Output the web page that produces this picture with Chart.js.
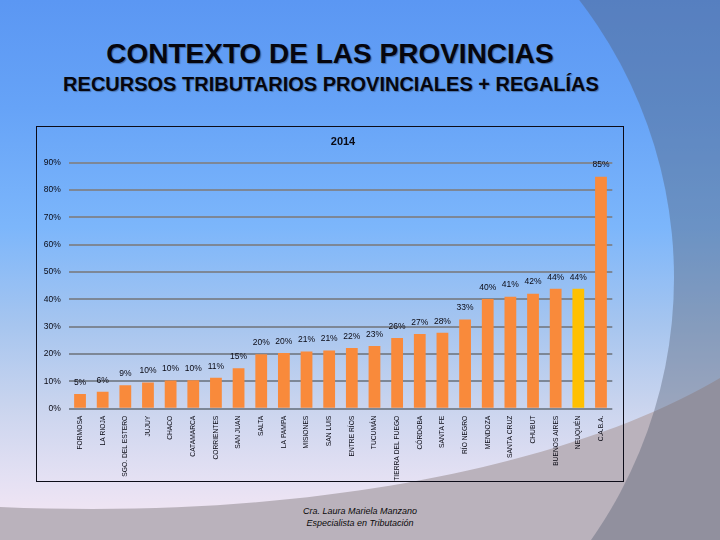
<!DOCTYPE html>
<html><head><meta charset="utf-8">
<script src="https://cdn.jsdelivr.net/npm/chart.js@4"></script>
<style>
html,body{margin:0;padding:0;width:720px;height:540px;overflow:hidden;background:#fff;}
#stage{position:relative;width:720px;height:540px;}
#bg{position:absolute;left:0;top:0;}
.t1{position:absolute;left:0;width:660px;top:38px;text-align:center;font:bold 28px "Liberation Sans",Arial,sans-serif;line-height:32px;color:#06060e;text-shadow:1px 1px 1px rgba(0,0,0,0.35);}
.t2{position:absolute;left:0;width:662px;top:72px;text-align:center;font:bold 20px "Liberation Sans",Arial,sans-serif;line-height:24px;color:#06060e;text-shadow:1px 1px 1px rgba(0,0,0,0.3);}
#box{position:absolute;left:36px;top:126px;width:588px;height:356px;box-sizing:border-box;border:1.5px solid #0c0c18;}
#wrap{position:absolute;left:36px;top:126px;width:614px;height:356px;}
.foot{position:absolute;left:260px;width:200px;top:505px;text-align:center;font:italic 9px "Liberation Sans",Arial,sans-serif;line-height:12px;color:#0a0a0a;}
</style></head>
<body><div id="stage">
<svg id="bg" width="720" height="540">
<defs>
<linearGradient id="g" x1="0" y1="0" x2="0" y2="540" gradientUnits="userSpaceOnUse">
<stop offset="0" stop-color="#5b97f3"/>
<stop offset="0.2" stop-color="#66a3f7"/>
<stop offset="0.42" stop-color="#7cb6fb"/>
<stop offset="0.6" stop-color="#a6c5ef"/>
<stop offset="0.75" stop-color="#c9d4ee"/>
<stop offset="0.88" stop-color="#e3e0f3"/>
<stop offset="0.94" stop-color="#eee4f3"/>
<stop offset="1" stop-color="#f2e6f3"/>
</linearGradient>
<mask id="outside"><rect width="720" height="540" fill="white"/><circle cx="219" cy="278" r="455" fill="black"/></mask>
</defs>
<rect width="720" height="540" fill="url(#g)"/>
<path d="M0,507 C350,522 600,450 720,378 L720,540 L0,540 Z" fill="#bab2bc"/>
<rect width="720" height="540" fill="#505a6e" opacity="0.38" mask="url(#outside)"/>
</svg>
<div class="t1">CONTEXTO DE LAS PROVINCIAS</div>
<div class="t2">RECURSOS TRIBUTARIOS PROVINCIALES + REGALÍAS</div>
<div id="box"></div>
<div id="wrap"><canvas id="c" width="614" height="356"></canvas></div>
<div class="foot">Cra. Laura Mariela Manzano<br>Especialista en Tributación</div>
</div>
<script>
const chartTitle = '2014';
const categories = ['FORMOSA','LA RIOJA','SGO. DEL ESTERO','JUJUY','CHACO','CATAMARCA','CORRIENTES','SAN JUAN','SALTA','LA PAMPA','MISIONES','SAN LUIS','ENTRE RÍOS','TUCUMÁN','TIERRA DEL FUEGO','CÓRDOBA','SANTA FE','RÍO NEGRO','MENDOZA','SANTA CRUZ','CHUBUT','BUENOS AIRES','NEUQUÉN','C.A.B.A.'];
const values = [5.4,6.2,8.6,9.6,10.3,10.4,11.3,14.8,19.9,20.4,20.9,21.3,22.2,22.9,25.9,27.3,27.8,32.6,40.1,41.0,42.1,43.9,43.9,84.9];
const highlighted = ['NEUQUÉN'];
const yTickValues = [0,10,20,30,40,50,60,70,80,90];

const ORANGE = '#f98a3b', YELLOW = '#ffc000', TXT = '#0a0a14';
const barColors = categories.map(c => highlighted.includes(c) ? YELLOW : ORANGE);

const barLabels = {
  id: 'barLabels',
  afterDatasetsDraw(chart) {
    const ctx = chart.ctx;
    const meta = chart.getDatasetMeta(0);
    ctx.save();
    ctx.font = '8.5px "Liberation Sans", Arial, sans-serif';
    ctx.fillStyle = TXT;
    ctx.textAlign = 'center';
    ctx.textBaseline = 'middle';
    meta.data.forEach((bar, i) => {
      ctx.fillText(Math.round(values[i]) + '%', bar.x, bar.y - 11.5);
    });
    ctx.restore();
  }
};

new Chart(document.getElementById('c'), {
  type: 'bar',
  data: {
    labels: categories,
    datasets: [{
      data: values,
      backgroundColor: barColors,
      borderWidth: 0,
      barPercentage: 0.52,
      categoryPercentage: 1.0
    }]
  },
  options: {
    responsive: false,
    animation: false,
    layout: { padding: 0 },
    plugins: {
      legend: { display: false },
      tooltip: { enabled: false },
      title: {
        display: true,
        text: chartTitle,
        color: TXT,
        font: { family: '"Liberation Sans", Arial, sans-serif', size: 11, weight: 'bold' },
        padding: { top: 9.4, bottom: 14.1 }
      }
    },
    scales: {
      x: {
        grid: { display: false, drawTicks: false },
        border: { display: false },
        ticks: {
          autoSkip: false, minRotation: 90, maxRotation: 90, padding: 7,
          color: TXT,
          font: { family: '"Liberation Sans", Arial, sans-serif', size: 6.7 }
        },
        afterFit(s) { s.height = 73.3; }
      },
      y: {
        min: 0, max: 90,
        afterBuildTicks(s) { s.ticks = yTickValues.map(v => ({ value: v })); },
        grid: { color: '#7d8796', lineWidth: 2, drawTicks: false },
        border: { display: false },
        ticks: {
          padding: 8, color: TXT,
          font: { family: '"Liberation Sans", Arial, sans-serif', size: 8.5 },
          callback: v => v + '%'
        },
        afterFit(s) { s.width = 32.7; }
      },
      yR: {
        position: 'right',
        grid: { display: false, drawTicks: false },
        border: { display: false },
        ticks: { display: false },
        afterFit(s) { s.width = 37.7; }
      }
    }
  },
  plugins: [barLabels]
});
</script>
</body></html>
